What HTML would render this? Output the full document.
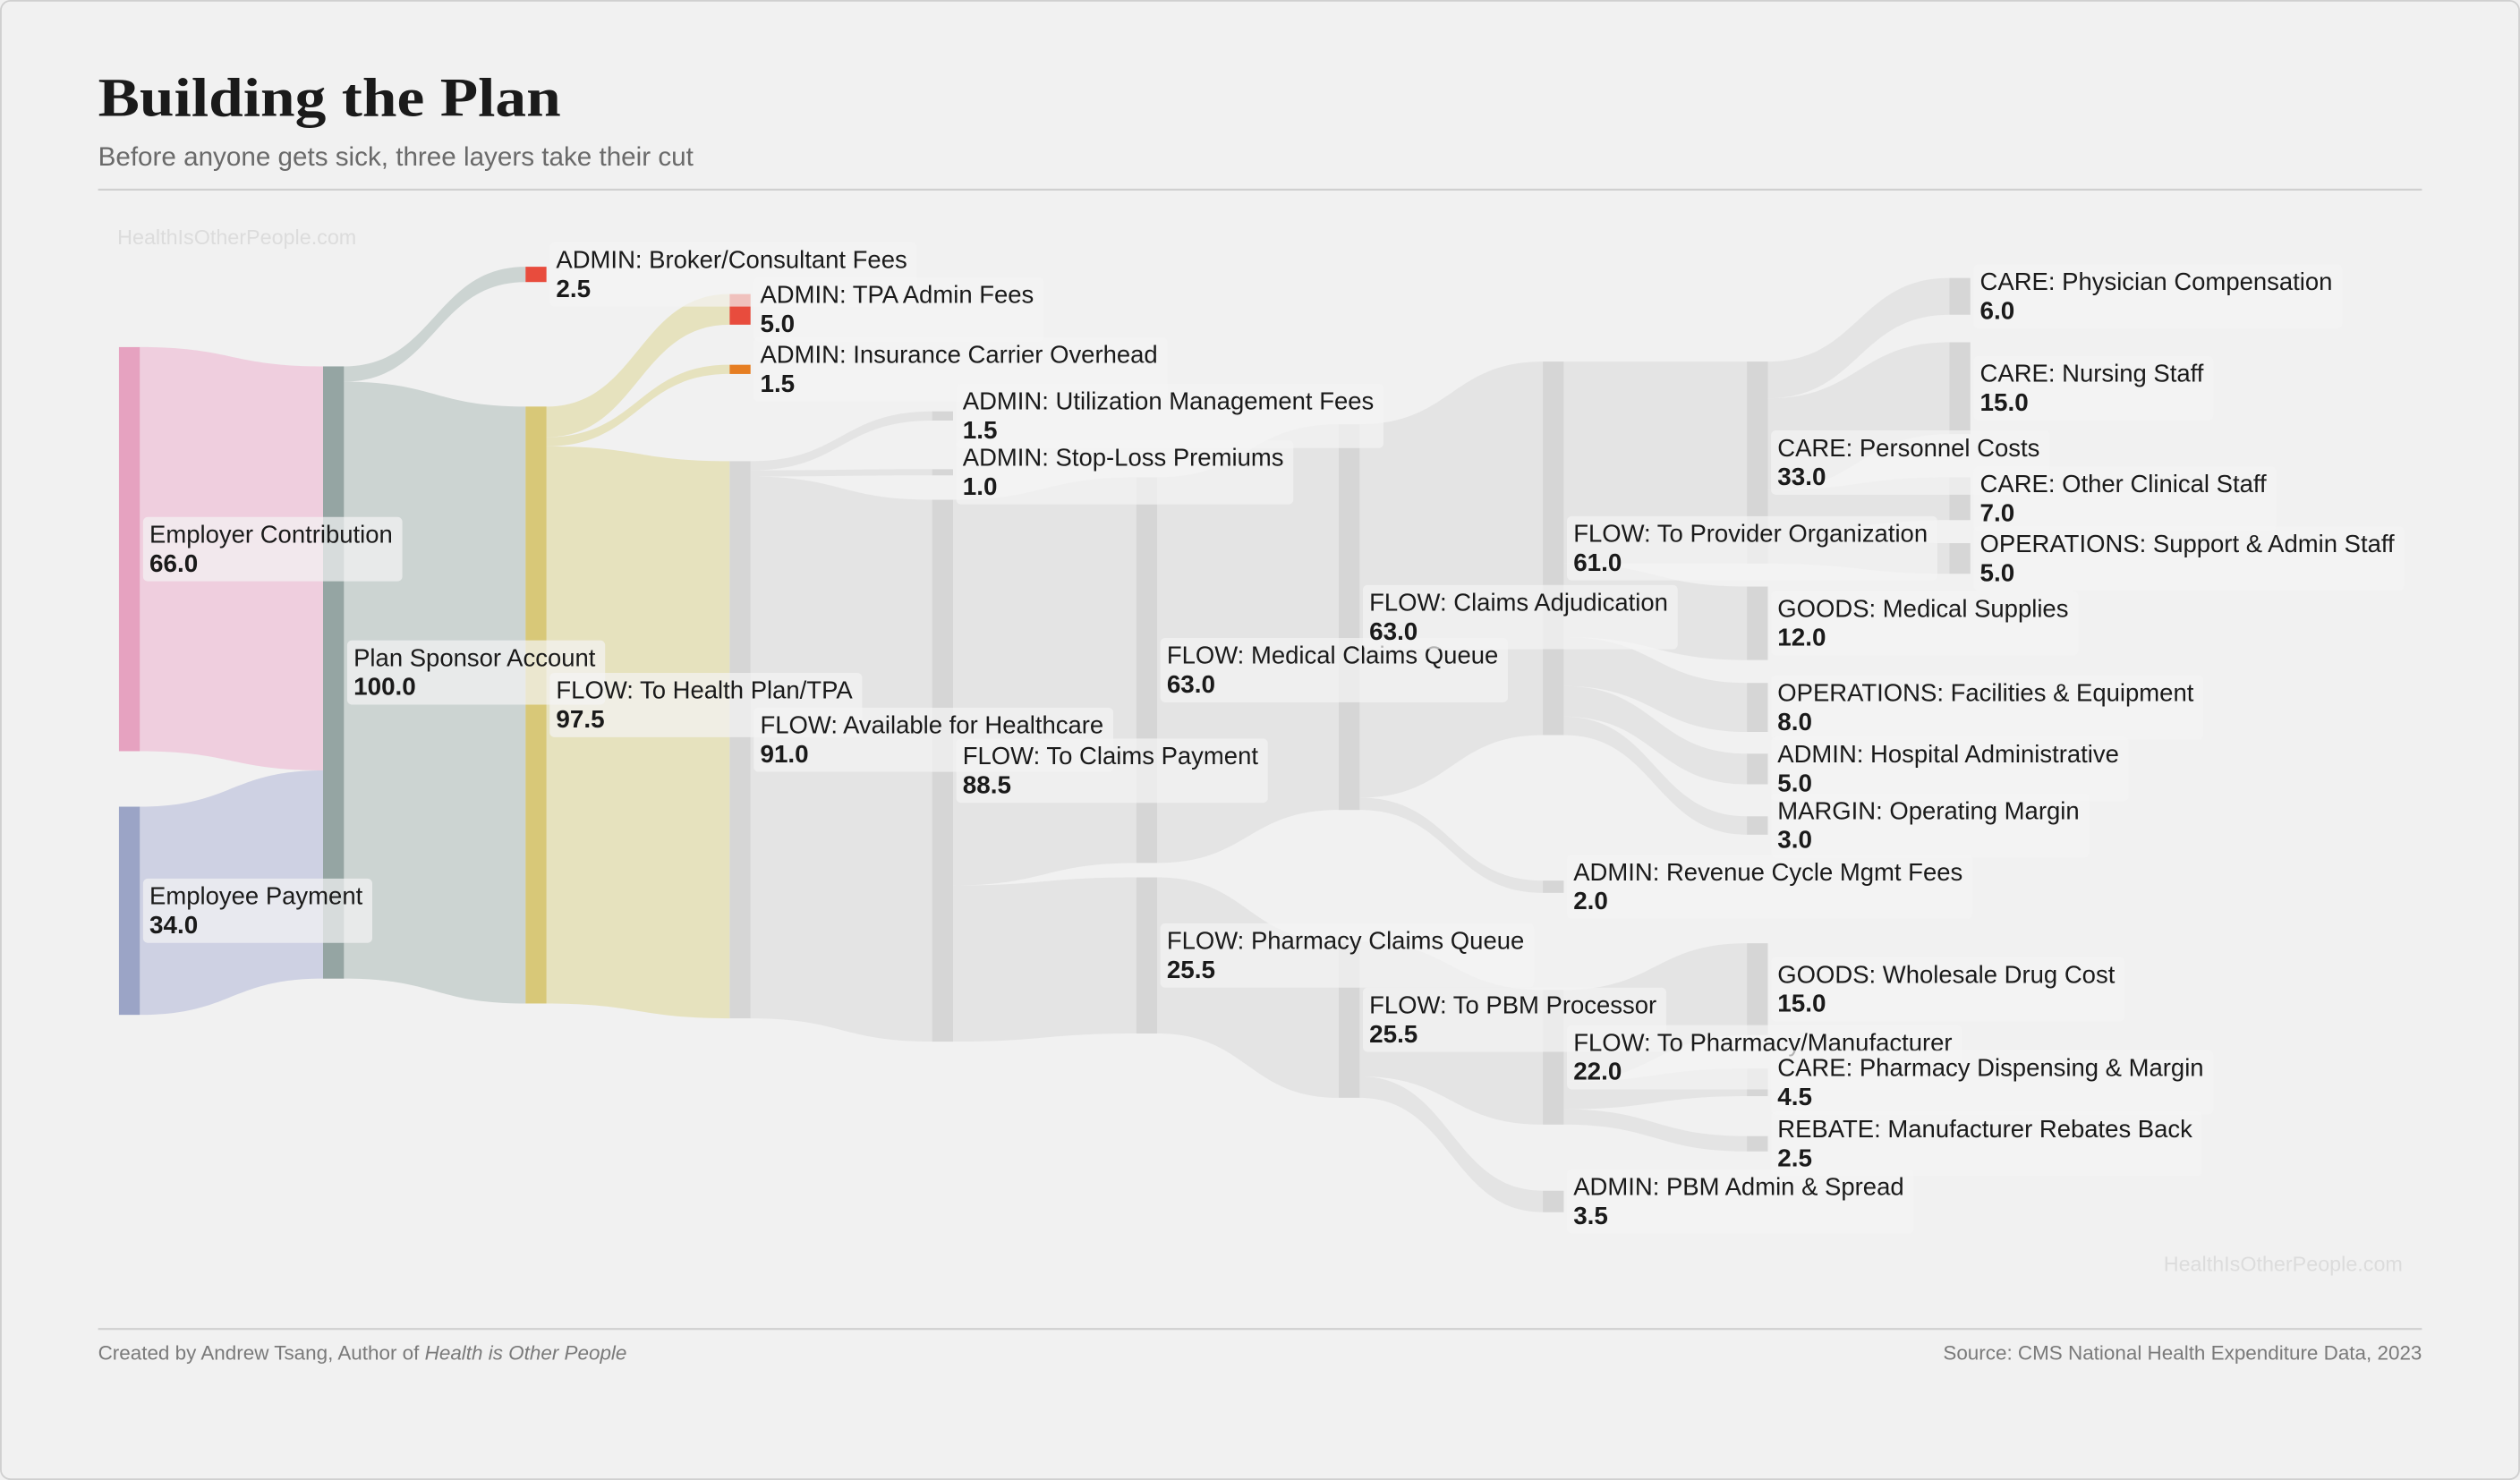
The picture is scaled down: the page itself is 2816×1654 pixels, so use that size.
<!DOCTYPE html>
<html><head><meta charset="utf-8"><style>
html,body{margin:0;padding:0;background:#f1f1f1;}
svg{display:block;}
</style></head><body>
<svg id="chart" xmlns="http://www.w3.org/2000/svg" width="2816" height="1654" viewBox="0 0 1568 921">
<rect x="0.5" y="0.5" width="1567" height="920" rx="6" fill="#f1f1f1" stroke="#cfcfcf"/>
<text x="61" y="72" font-family="Liberation Serif, serif" font-weight="bold" font-size="34" fill="#1a1a1a" textLength="288" lengthAdjust="spacingAndGlyphs">Building the Plan</text>
<text x="61" y="103" font-family="Liberation Sans, sans-serif" font-size="16.5" fill="#6a6a6a">Before anyone gets sick, three layers take their cut</text>
<line x1="61" y1="118" x2="1507" y2="118" stroke="#d0d0d0" stroke-width="1.2"/>
<text x="73" y="152" font-family="Liberation Sans, sans-serif" font-size="13" fill="#dcdcdc">HealthIsOtherPeople.com</text>
<text x="1495" y="791" text-anchor="end" font-family="Liberation Sans, sans-serif" font-size="13" fill="#dcdcdc">HealthIsOtherPeople.com</text>
<g id="links"></g>
<g id="nodes"></g>
<g id="labels"></g>
<line x1="61" y1="827" x2="1507" y2="827" stroke="#d0d0d0" stroke-width="1.2"/>
<text x="61" y="846" font-family="Liberation Sans, sans-serif" font-size="12.5" fill="#7a7a7a">Created by Andrew Tsang, Author of <tspan font-style="italic">Health is Other People</tspan></text>
<text x="1507" y="846" text-anchor="end" font-family="Liberation Sans, sans-serif" font-size="12.5" fill="#7a7a7a">Source: CMS National Health Expenditure Data, 2023</text>
</svg>
<script>
// ---- data ----
const nodeNames = ["Employer Contribution","Employee Payment","Plan Sponsor Account","ADMIN: Broker/Consultant Fees","FLOW: To Health Plan/TPA","ADMIN: TPA Admin Fees","ADMIN: Insurance Carrier Overhead","FLOW: Available for Healthcare","ADMIN: Utilization Management Fees","ADMIN: Stop-Loss Premiums","FLOW: To Claims Payment","FLOW: Medical Claims Queue","FLOW: Pharmacy Claims Queue","FLOW: Claims Adjudication","FLOW: To PBM Processor","FLOW: To Provider Organization","ADMIN: Revenue Cycle Mgmt Fees","FLOW: To Pharmacy/Manufacturer","ADMIN: PBM Admin & Spread","CARE: Personnel Costs","GOODS: Medical Supplies","OPERATIONS: Facilities & Equipment","ADMIN: Hospital Administrative","MARGIN: Operating Margin","GOODS: Wholesale Drug Cost","CARE: Pharmacy Dispensing & Margin","REBATE: Manufacturer Rebates Back","CARE: Physician Compensation","CARE: Nursing Staff","CARE: Other Clinical Staff","OPERATIONS: Support & Admin Staff"];
const linkSources = [0,1,2,2,4,4,4,7,7,7,10,10,11,12,13,13,14,14,15,15,15,15,15,17,17,17,19,19,19,19];
const linkTargets = [2,2,3,4,5,6,7,8,9,10,11,12,13,14,15,16,17,18,19,20,21,22,23,24,25,26,27,28,29,30];
const linkValues  = [66,34,2.5,97.5,5,1.5,91,1.5,1.0,88.5,63,25.5,63,25.5,61,2,22,3.5,33,12,8,5,3,15,4.5,2.5,6,15,7,5];
// ---- layout (not data) ----
const nodeCol = [0,0,1,2,2,3,3,3,4,4,4,5,5,6,6,7,7,7,7,8,8,8,8,8,8,8,8,9,9,9,9];
const nodeTop = [216,502,228,166,253,183,227,287,256,292,311,297,546,264,586,225,548,616,741,225,365,425,469,508,587,665,707,173,213,297,338];
const colX = [74,201,327,454,580,707,833,960,1087,1213];
const K = 3.81, NW = 13;
const nodeFill = i => ({0:"#e6a2c0",1:"#9ba4c6",2:"#95a5a3",3:"#e84c3d",4:"#d8c878",5:"#e84c3d",6:"#e67e22"})[i] || "#d6d6d6";
const linkFill = s => ({0:"#efc8da",1:"#c8cbe0",2:"#c6cfcd",4:"#e4dfb5"})[s] || "#e2e2e2";
const NS="http://www.w3.org/2000/svg";
const vy = v => v*K;
const nodeVal = nodeNames.map((_,i)=>{
  let inn=0,out=0;
  linkValues.forEach((v,j)=>{ if(linkTargets[j]===i) inn+=v; if(linkSources[j]===i) out+=v; });
  return Math.max(inn,out);
});
const outOff = nodeNames.map(()=>0), inOff = nodeNames.map(()=>0);
const gL=document.getElementById('links'), gN=document.getElementById('nodes'), gT=document.getElementById('labels');
linkValues.forEach((v,j)=>{
  const s=linkSources[j], t=linkTargets[j], h=vy(v);
  const x0=colX[nodeCol[s]]+NW, x1=colX[nodeCol[t]];
  const y0=nodeTop[s]+outOff[s], y1=nodeTop[t]+inOff[t];
  outOff[s]+=h; inOff[t]+=h;
  const xm=(x0+x1)/2;
  const p=document.createElementNS(NS,'path');
  p.setAttribute('d',`M${x0},${y0}C${xm},${y0} ${xm},${y1} ${x1},${y1}L${x1},${y1+h}C${xm},${y1+h} ${xm},${y0+h} ${x0},${y0+h}Z`);
  p.setAttribute('fill',linkFill(s));
  p.setAttribute('fill-opacity','0.85');
  
  
  gL.appendChild(p);
});
nodeNames.forEach((n,i)=>{
  const r=document.createElementNS(NS,'rect');
  r.setAttribute('x',colX[nodeCol[i]]); r.setAttribute('y',nodeTop[i]);
  r.setAttribute('width',NW); r.setAttribute('height',vy(nodeVal[i]));
  r.setAttribute('fill',nodeFill(i));
  
  
  gN.appendChild(r);
  const cx=colX[nodeCol[i]]+NW+6, cy=nodeTop[i]+vy(nodeVal[i])/2;
  const g=document.createElementNS(NS,'g');
  
  
  const bg=document.createElementNS(NS,'rect');
  const t1=document.createElementNS(NS,'text');
  t1.setAttribute('x',cx); t1.setAttribute('y',cy-4);
  t1.setAttribute('font-family','Liberation Sans, sans-serif'); t1.setAttribute('font-size','15.3'); t1.setAttribute('fill','#1a1a1a');
  t1.textContent=n;
  const t2=document.createElementNS(NS,'text');
  t2.setAttribute('x',cx); t2.setAttribute('y',cy+14);
  t2.setAttribute('font-family','Liberation Sans, sans-serif'); t2.setAttribute('font-size','15.5'); t2.setAttribute('font-weight','bold'); t2.setAttribute('fill','#1a1a1a');
  t2.textContent=nodeVal[i].toFixed(1);
  g.appendChild(bg); g.appendChild(t1); g.appendChild(t2); gT.appendChild(g);
  const w=t1.getComputedTextLength();
  bg.setAttribute('x',cx-4); bg.setAttribute('y',cy-20); bg.setAttribute('width',w+10); bg.setAttribute('height',40);
  bg.setAttribute('rx',3); bg.setAttribute('fill','#f3f3f3'); bg.setAttribute('fill-opacity','0.7');
});
</script>
</body></html>
